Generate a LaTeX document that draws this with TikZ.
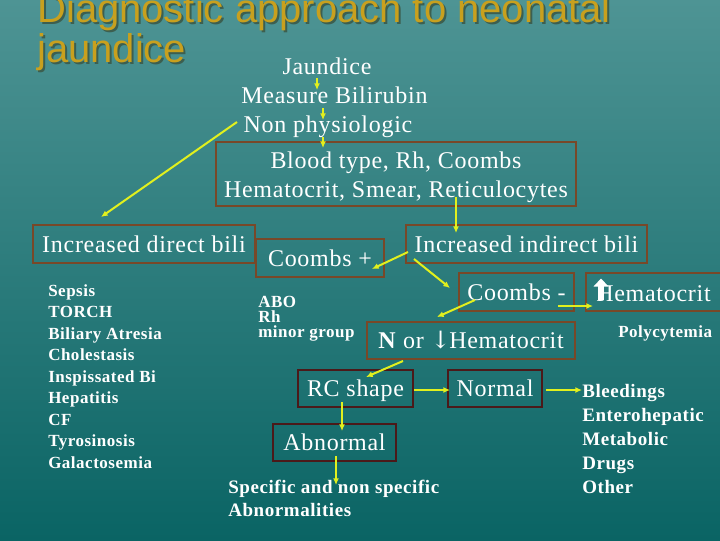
\documentclass[tikz,border=0pt]{standalone}
\usepackage{fontspec}
\setmainfont{Liberation Serif}[LetterSpace=3]
\newfontfamily\titlefont{Liberation Sans}
\newfontfamily\arrowfont{DejaVu Serif}
\usetikzlibrary{arrows.meta,calc}
\definecolor{bgtop}{RGB}{78,148,148}
\definecolor{bgbot}{RGB}{10,100,100}
\definecolor{gold}{RGB}{200,160,30}
\definecolor{tshadow}{RGB}{60,95,80}
\definecolor{boxbrown}{RGB}{120,72,40}
\definecolor{boxdark}{RGB}{75,25,25}
\definecolor{arrowyel}{RGB}{225,240,30}
\begin{document}
\begin{tikzpicture}[x=0.75pt,y=-0.75pt,
  txt/.style={text=white, inner sep=0pt, font=\fontsize{18}{21.75}\selectfont},
  boxst/.style={draw=boxbrown, line width=1.8pt, text=white, inner sep=0pt, outer sep=0pt,
    text height=12pt, text depth=0pt, minimum height=28.5pt, font=\fontsize{18}{21.75}\selectfont},
  darkbox/.style={boxst, draw=boxdark},
  smalltxt/.style={text=white, inner sep=0pt, anchor=base west, font=\bfseries\fontsize{12.75}{15}\selectfont},
  midtxt/.style={text=white, inner sep=0pt, anchor=base west, font=\bfseries\fontsize{14.25}{17}\selectfont},
  arr/.style={draw=arrowyel, line width=1.5pt, -{Latex[length=5pt,width=4.5pt]}},
  ttl/.style={inner sep=0pt, anchor=base west, font=\titlefont\fontsize{30}{31}\selectfont}]
\useasboundingbox (0,0) rectangle (720,540);
\clip (0,0) rectangle (720,540);
\shade[top color=bgtop, bottom color=bgbot] (0,0) rectangle (720,540);

% title
\node[ttl, text=tshadow] (t1s) at (39,24) {Diagnostic approach to neonatal};
\node[ttl, text=tshadow] (t2s) at (39,64) {jaundice};
\node[ttl, text=gold] (t1) at (37,22) {Diagnostic approach to neonatal};
\node[ttl, text=gold] (t2) at (37,62) {jaundice};

% top chain
\node[txt, anchor=base] (jau) at (327,74) {Jaundice};
\node[txt, anchor=base] (meas) at (334.5,103) {Measure Bilirubin};
\node[txt, anchor=base] (nonph) at (328,132) {Non physiologic};
\node[boxst, minimum width=270pt, minimum height=48pt] (blood) at (396,174) {};
\node[txt, anchor=base] (bl1) at (396,168) {Blood type, Rh, Coombs};
\node[txt, anchor=base] (bl2) at (396,197) {Hematocrit, Smear, Reticulocytes};

% boxes
\node[boxst, minimum width=166.5pt] (incdir) at (144,244) {Increased direct bili};
\node[boxst, minimum width=96pt] (coombsp) at (320,258) {Coombs +};
\node[boxst, minimum width=180.75pt] (incind) at (526.5,244) {Increased indirect bili};
\node[boxst, minimum width=86.25pt] (coombsm) at (516.5,292) {Coombs -};
\node[boxst, minimum width=105pt] (hemab) at (656,292) {};
\node[txt, anchor=base west] (hema) at (596,301) {Hematocrit};
\fill[white] (593.5,286.5) -- (601,278.5) -- (608.5,286.5) -- (603.8,286.5) -- (603.8,300) -- (598.2,300) -- (598.2,286.5) -- cycle;
\node[boxst, minimum width=156pt, minimum height=27.75pt] (nor) at (471,340.5) {\textbf{N} or {\arrowfont ↓}\kern-1ptHematocrit};
\node[darkbox, minimum width=86.25pt, minimum height=27.75pt] (rc) at (355.5,388.5) {RC shape};
\node[darkbox, minimum width=70.5pt, minimum height=27.75pt] (normal) at (495,388.5) {Normal};
\node[darkbox, minimum width=92.25pt, minimum height=27.75pt] (abn) at (334.5,442.5) {Abnormal};

% lists
\foreach [count=\i] \t in {Sepsis,TORCH,Biliary Atresia,Cholestasis,Inspissated Bi,Hepatitis,CF,Tyrosinosis,Galactosemia}
  \node[smalltxt] (d\i) at (48,{296+21.5*(\i-1)}) {\t};
\foreach [count=\i] \t in {ABO,Rh,minor group}
  \node[smalltxt] (c\i) at (258,{307+15*(\i-1)}) {\t};
\node[smalltxt] (poly) at (618,337) {Polycytemia};
\foreach [count=\i] \t in {Bleedings,Enterohepatic,Metabolic,Drugs,Other}
  \node[midtxt] (b\i) at (582,{397+24*(\i-1)}) {\t};
\node[midtxt] (spec) at (228,493) {Specific and non specific};
\node[midtxt] (abnl) at (228,516) {Abnormalities};

% connectors
\draw[arr] ($(jau.base)+(-10,4)$) -- ($(meas.base)+(-17.5,-13)$);
\draw[arr] ($(meas.base)+(-11.5,5)$) -- ($(nonph.base)+(-5,-12)$);
\draw[arr] ($(nonph.base)+(-5,5)$) -- ($(blood.north)+(-73,6)$);
\draw[arr] ($(nonph.base)+(-91,-10)$) -- ($(incdir.north)+(-43,-8)$);
\draw[arr] ($(blood.south)+(60,-9)$) -- ($(incind.north)+(-70.5,8)$);
\draw[arr] ($(incind.west)+(2,8)$) -- ($(coombsp.east)+(-12,11)$);
\draw[arr] ($(incind.west)+(8,15)$) -- ($(coombsm.west)+(-9,-4)$);
\draw[arr] ($(coombsm.west)+(16,8)$) -- ($(nor.north)+(-34,-5)$);
\draw[arr] ($(coombsm.east)+(-16,14)$) -- ($(hemab.west)+(7,14)$);
\draw[arr] ($(nor.south)+(-68,2)$) -- ($(rc.north)+(10.5,7)$);
\draw[arr] ($(rc.east)+(1,1.5)$) -- ($(normal.west)+(2,1.5)$);
\draw[arr] ($(normal.east)+(4,1.5)$) -- ($(b1.base west)+(0,-7)$);
\draw[arr] ($(rc.south)+(-13.5,-5)$) -- ($(abn.north)+(7.5,7)$);
\draw[arr] ($(abn.south)+(1.5,-5)$) -- ($(spec.base west)+(108,-8)$);
\end{tikzpicture}
\end{document}
